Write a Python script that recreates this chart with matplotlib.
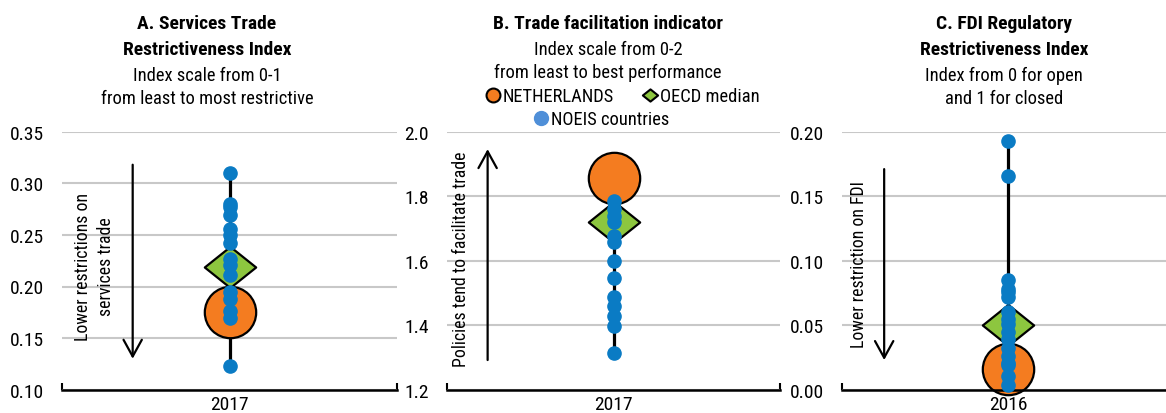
import matplotlib
matplotlib.use("Agg")
import matplotlib.pyplot as plt
from matplotlib.path import Path
from matplotlib.lines import Line2D

# ---- data -------------------------------------------------------------
sti_year = ["2017"]
sti_noeis = [0.310, 0.280, 0.277, 0.269, 0.256, 0.250, 0.242, 0.227, 0.221,
             0.211, 0.195, 0.188, 0.176, 0.169, 0.123]
sti_nld = 0.175
sti_oecd = 0.219

tfi_year = ["2017"]
tfi_noeis = [1.786, 1.760, 1.740, 1.719, 1.678, 1.657, 1.600, 1.545, 1.486,
             1.460, 1.429, 1.397, 1.314]
tfi_nld = 1.855
tfi_oecd = 1.719

fdi_year = ["2016"]
fdi_noeis = [0.193, 0.166, 0.085, 0.078, 0.076, 0.072, 0.060, 0.055, 0.051,
             0.045, 0.039, 0.032, 0.026, 0.021, 0.019, 0.011, 0.004]
fdi_nld = 0.016
fdi_oecd = 0.050

ORANGE = "#F47C20"
GREEN = "#8DC63F"
BLUE = "#0A7BC4"
LEG_BLUE = "#4F8FD8"
GRID = "#C8C8C8"

plt.rcParams["font.family"] = ["Roboto Condensed", "DejaVu Sans"]
FS = 14      # tick labels
FS_SUB = 13.3  # subtitles / legend
FS_SIDE = 12.8  # rotated arrow notes

# flattened diamond marker (wider than tall)
DIAMOND = Path([(-1, 0), (0, 0.8), (1, 0), (0, -0.8), (-1, 0)],
               [Path.MOVETO, Path.LINETO, Path.LINETO, Path.LINETO, Path.CLOSEPOLY])

W, H = 1166, 414
fig = plt.figure(figsize=(W / 100, H / 100), dpi=100)


def px_axes(x0, x1, y_top=132.7, y_bot=390.7):
    return fig.add_axes([x0 / W, 1 - y_bot / H, (x1 - x0) / W, (y_bot - y_top) / H])


def panel(ax, year, noeis, nld, oecd, ylim, yticks, fmt):
    ax.set_xlim(-0.5, 0.5)
    ax.set_ylim(*ylim)
    ax.set_yticks(yticks)
    ax.set_yticklabels([fmt.format(t) for t in yticks], fontsize=FS)
    ax.set_xticks([0])
    ax.set_xticklabels(year, fontsize=FS)
    ax.set_xticks([-0.5, 0.5], minor=True)
    ax.tick_params(axis="x", which="major", length=0, pad=4)
    ax.tick_params(axis="x", which="minor", direction="in", length=5, width=1.5)
    ax.tick_params(axis="y", length=0, pad=13)
    for s in ["top", "right", "left"]:
        ax.spines[s].set_visible(False)
    ax.spines["bottom"].set_linewidth(1.8)
    ax.spines["bottom"].set_zorder(5)
    ax.grid(axis="y", color=GRID, linewidth=1.5)
    ax.set_axisbelow(True)
    x = [0] * len(noeis)
    ax.plot([0, 0], [min(noeis), max(noeis)], color="black", lw=2.3, zorder=2,
            solid_capstyle="butt")
    ax.plot([0], [nld], marker="o", ms=37, mfc=ORANGE, mec="black", mew=1.6,
            ls="none", zorder=3, clip_on=False)
    ax.plot([0], [oecd], marker=DIAMOND, ms=37, mfc=GREEN, mec="black", mew=1.6,
            ls="none", zorder=4, clip_on=False)
    ax.plot(x, noeis, marker="o", ms=9.5, mfc=BLUE, mec=BLUE, ls="none",
            zorder=6, clip_on=False)


def arrow(ax, x, y0, y1):
    ax.annotate("", xy=(x, y1), xytext=(x, y0),
                xycoords=("axes fraction", "data"),
                textcoords=("axes fraction", "data"),
                arrowprops=dict(arrowstyle="->,head_length=0.6,head_width=0.33",
                                lw=1.6, color="black", mutation_scale=20,
                                shrinkA=0, shrinkB=0))


def side_text(ax, x, y, s):
    ax.text(x, y, s, transform=ax.get_yaxis_transform(), rotation=90,
            ha="center", va="center", fontsize=FS_SIDE, linespacing=1.35)


def title(xc, lines_bold, lines_norm, y0=24, step=24.5):
    y = y0
    for t in lines_bold:
        fig.text(xc / W, 1 - y / H, t, ha="center", va="center",
                 fontsize=FS, fontweight="bold")
        y += step + 1.5
    for t in lines_norm:
        fig.text(xc / W, 1 - y / H, t, ha="center", va="center", fontsize=FS_SUB)
        y += step - 1.5


# Panel A
axA = px_axes(62, 397)
panel(axA, sti_year, sti_noeis, sti_nld, sti_oecd, (0.10, 0.35),
      [0.10, 0.15, 0.20, 0.25, 0.30, 0.35], "{:.2f}")
arrow(axA, 0.211, 0.318, 0.130)
side_text(axA, 0.098, 0.22, "Lower restrictions on\nservices trade")
title(207, ["A. Services Trade", "Restrictiveness Index"],
      ["Index scale from 0-1", "from least to most restrictive"])

# Panel B
axB = px_axes(447, 780)
panel(axB, tfi_year, tfi_noeis, tfi_nld, tfi_oecd, (1.2, 2.0),
      [1.2, 1.4, 1.6, 1.8, 2.0], "{:.1f}")
arrow(axB, 0.122, 1.292, 1.946)
side_text(axB, 0.041, 1.608, "Policies tend to facilitate trade")
title(608, ["B. Trade facilitation indicator"],
      ["Index scale from 0-2", "from least to best performance"])

# legend for panel B
handles = [
    Line2D([], [], marker="o", ms=10, mfc=ORANGE, mec="black", mew=1.5, ls="none",
           label="NETHERLANDS"),
    Line2D([], [], marker=DIAMOND, ms=11, mfc=GREEN, mec="black", mew=1.5, ls="none",
           label="OECD median"),
]
fig.legend(handles=handles, loc="center", bbox_to_anchor=(622 / W, 1 - 97 / H),
           ncol=2, frameon=False, fontsize=FS_SUB, handletextpad=0.1,
           columnspacing=1.5, handlelength=0.9, borderpad=0)
fig.legend(handles=[Line2D([], [], marker="o", ms=10, mfc=LEG_BLUE, mec=LEG_BLUE,
                           ls="none", label="NOEIS countries")],
           loc="center", bbox_to_anchor=(601 / W, 1 - 120 / H), frameon=False,
           fontsize=FS_SUB, handletextpad=0.1, handlelength=0.9, borderpad=0)

# Panel C
axC = px_axes(842, 1174)
panel(axC, fdi_year, fdi_noeis, fdi_nld, fdi_oecd, (0.0, 0.20),
      [0.00, 0.05, 0.10, 0.15, 0.20], "{:.2f}")
arrow(axC, 0.127, 0.171, 0.023)
side_text(axC, 0.051, 0.098, "Lower restriction on FDI")
title(1004, ["C. FDI Regulatory", "Restrictiveness Index"],
      ["Index from 0 for open", "and 1 for closed"])

fig.savefig("out.png", dpi=100)
